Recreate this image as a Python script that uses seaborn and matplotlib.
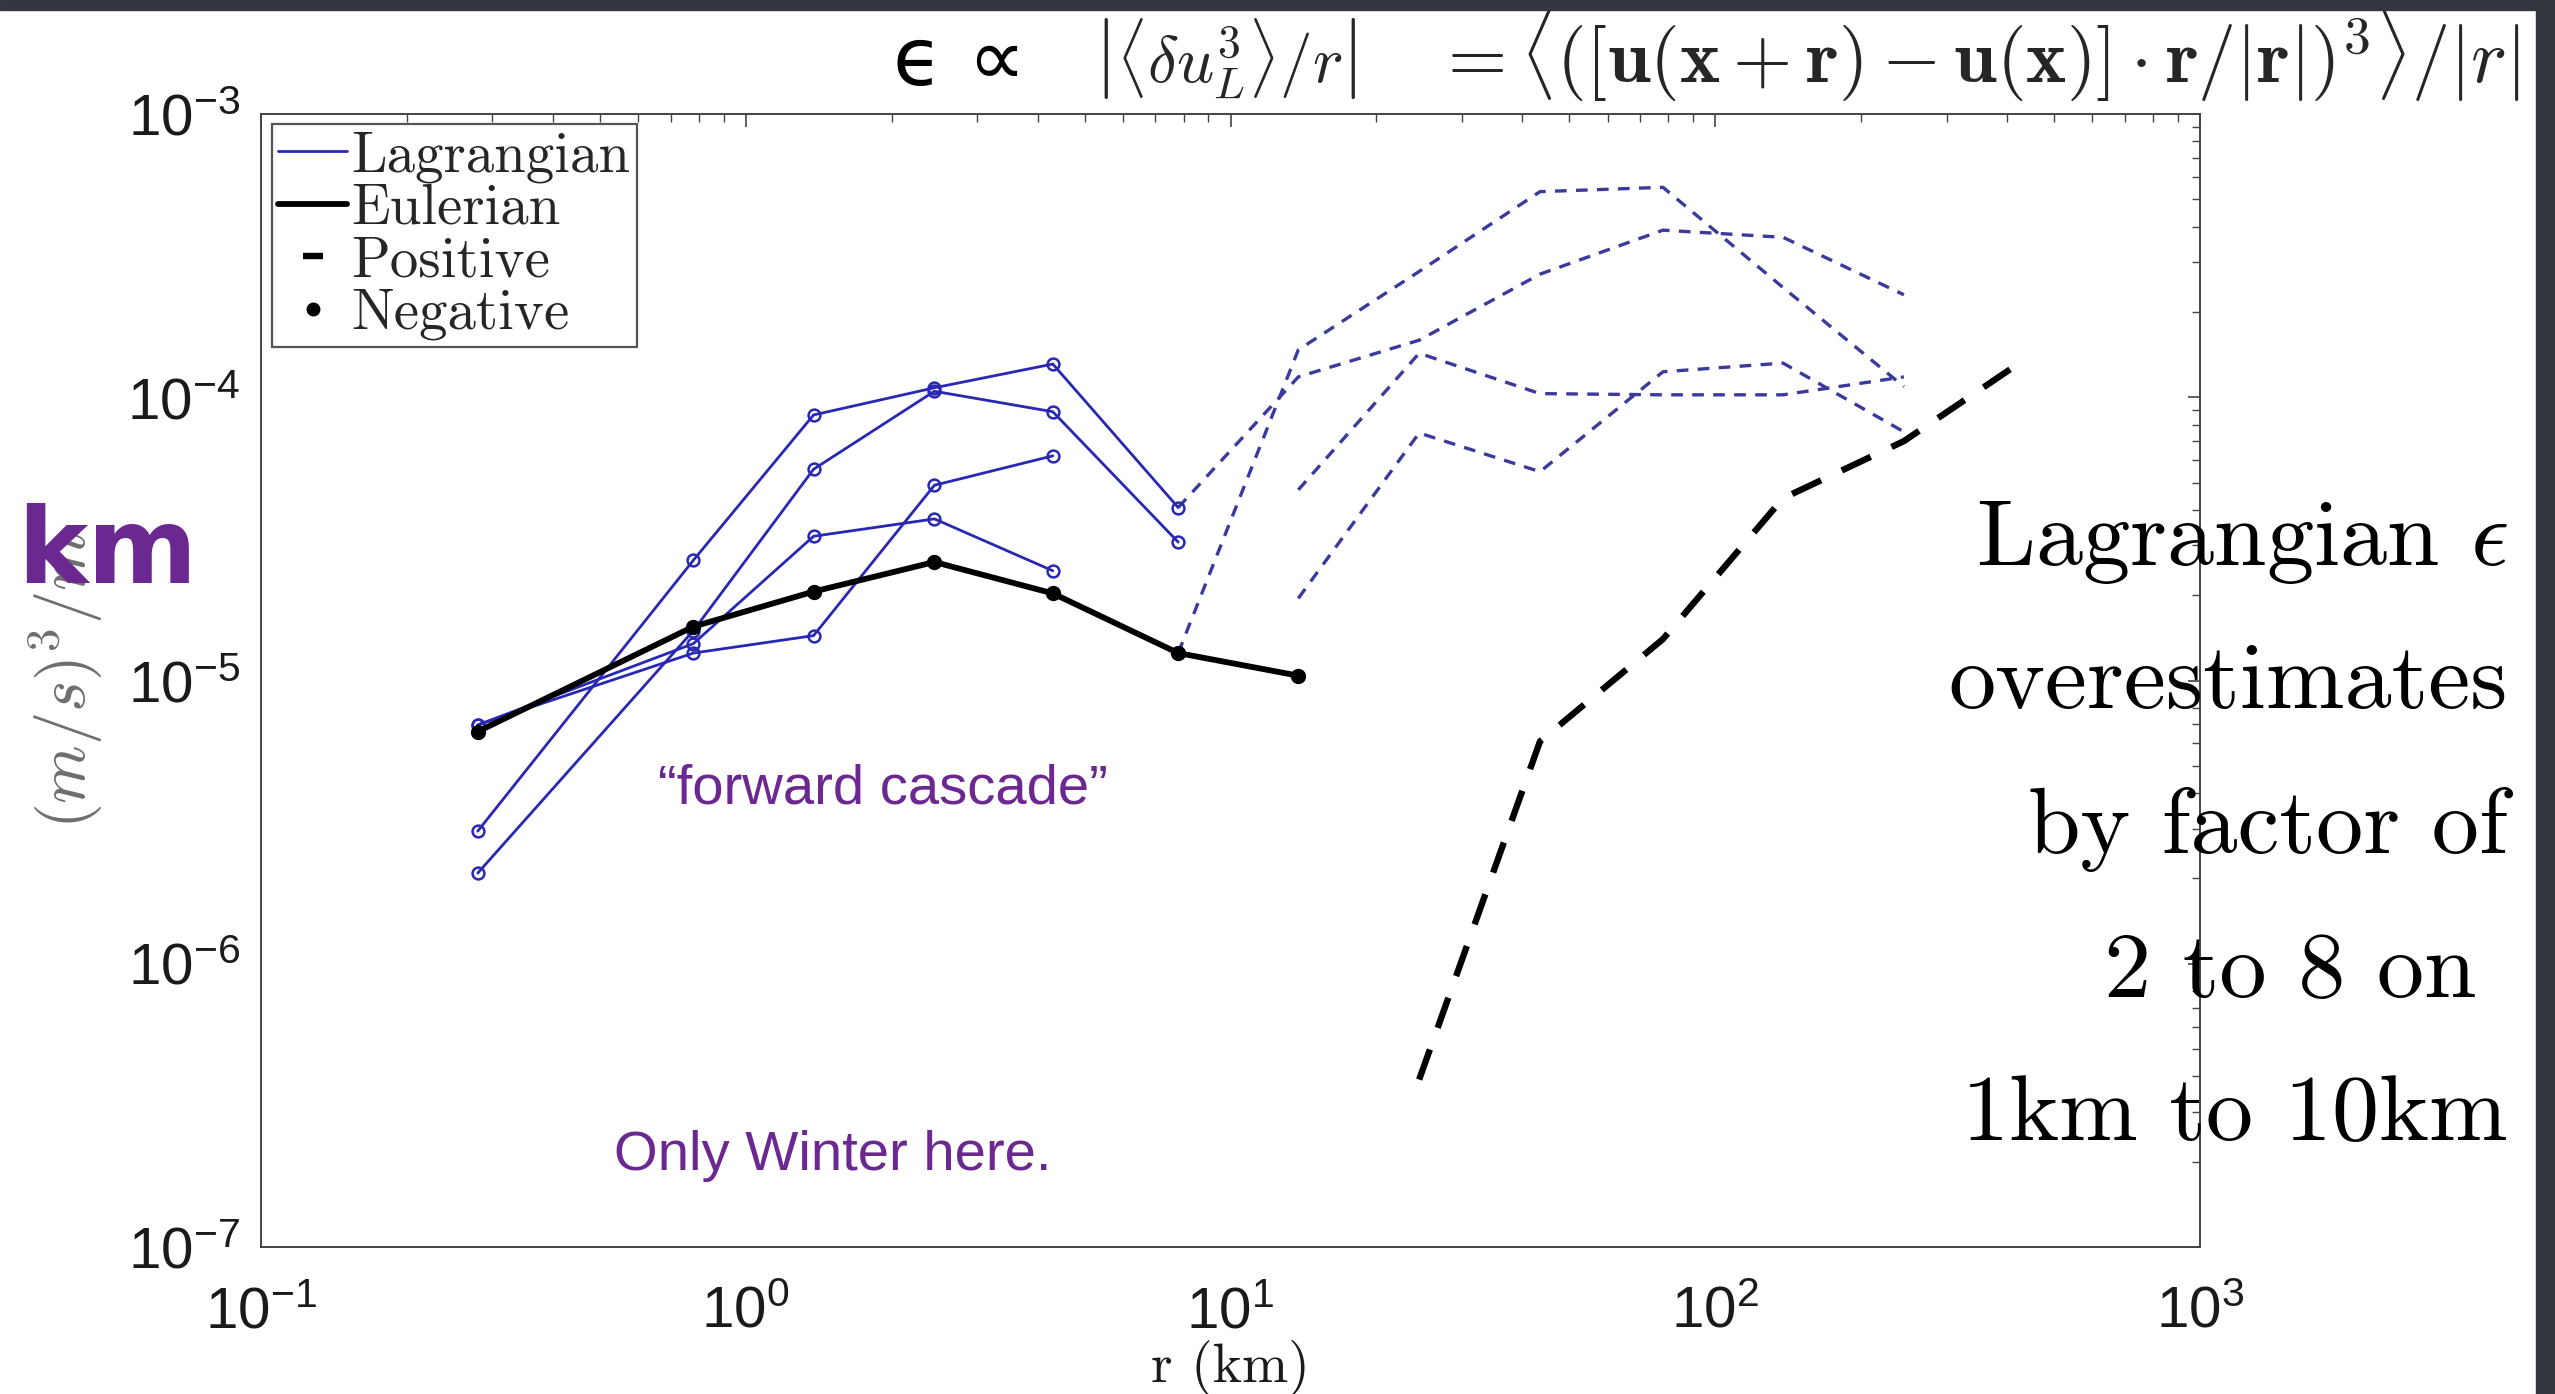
import numpy as np
import pandas as pd
import matplotlib
matplotlib.use("Agg")
import matplotlib.pyplot as plt
import seaborn as sns
from matplotlib.lines import Line2D
from matplotlib.patches import Rectangle

# ---------------- data ----------------
r_neg = [0.28, 0.78, 1.38, 2.45, 4.3, 7.8, 13.8]
eul_neg = [6.6e-6, 1.55e-5, 2.06e-5, 2.62e-5, 2.03e-5, 1.25e-5, 1.04e-5]
lag_neg_a = [2.94e-6, 2.66e-5, 8.66e-5, 1.08e-4, 1.31e-4, 4.08e-5]
lag_neg_b = [6.97e-6, 1.25e-5, 1.44e-5, 4.89e-5, 6.21e-5]
lag_neg_c = [2.09e-6, 1.50e-5, 5.57e-5, 1.05e-4, 8.89e-5, 3.08e-5]
lag_neg_d = [6.97e-6, 1.35e-5, 3.23e-5, 3.72e-5, 2.44e-5]

r_pos = [7.8, 13.8, 24.5, 43.5, 78, 138, 245]
lag_pos_a = [1.25e-5, 1.47e-4, 2.78e-4, 5.32e-4, 5.51e-4, 2.44e-4, 1.09e-4]
lag_pos_b = [4.08e-5, 1.18e-4, 1.59e-4, 2.72e-4, 3.89e-4, 3.67e-4, 2.30e-4]
lag_pos_c = [4.71e-5, 1.43e-4, 1.03e-4, 1.02e-4, 1.02e-4, 1.18e-4]
lag_pos_d = [1.95e-5, 7.48e-5, 5.46e-5, 1.23e-4, 1.32e-4, 7.55e-5]

r_eul_pos = [24.5, 43.5, 78, 138, 245, 410]
eul_pos = [3.9e-7, 6.1e-6, 1.4e-5, 4.4e-5, 7.0e-5, 1.27e-4]

legend_labels = ["Lagrangian", "Eulerian", "Positive", "Negative"]
note_lines = ["Lagrangian $\\epsilon$", "overestimates", "by factor of", "2 to 8 on ", "1km to 10km"]

# ---------------- style ----------------
sns.set_style("white")
plt.rcParams["font.family"] = ["Liberation Sans", "DejaVu Sans"]
plt.rcParams["mathtext.fontset"] = "custom"
plt.rcParams["mathtext.rm"] = "Liberation Sans"
plt.rcParams["mathtext.it"] = "Liberation Sans:italic"
plt.rcParams["mathtext.bf"] = "Liberation Sans:bold"

W, H = 2555, 1394
fig = plt.figure(figsize=(W / 100, H / 100), dpi=100, facecolor="white")

def fx(x):
    return x / W

def fy(y):
    return 1 - y / H

ax = fig.add_axes([fx(261), fy(1247), (2200 - 261) / W, (1247 - 114) / H])
ax.set_facecolor("white")

blue_solid = "#2828b2"
blue_dash = "#3a3a9c"
purple = "#6B2891"

# Lagrangian negative (solid with open circles)
for vals in [lag_neg_a, lag_neg_b, lag_neg_c, lag_neg_d]:
    df = pd.DataFrame({"r": r_neg[:len(vals)], "v": vals})
    sns.lineplot(data=df, x="r", y="v", ax=ax, color=blue_solid, lw=2.0,
                 marker="o", ms=8.5, mfc="none", mec=blue_solid, mew=1.8,
                 estimator=None, sort=False, legend=False, zorder=3)

# Lagrangian positive (dashed)
for vals in [lag_pos_a, lag_pos_b, lag_pos_c, lag_pos_d]:
    rr = r_pos[len(r_pos) - len(vals):]
    df = pd.DataFrame({"r": rr, "v": vals})
    sns.lineplot(data=df, x="r", y="v", ax=ax, color=blue_dash, lw=2.4,
                 linestyle=(0, (3.5, 2.8)), estimator=None, sort=False,
                 legend=False, zorder=2)

# Eulerian positive (thick dashed black)
df = pd.DataFrame({"r": r_eul_pos, "v": eul_pos})
sns.lineplot(data=df, x="r", y="v", ax=ax, color="black", lw=4.6,
             linestyle=(0, (5, 3.6)), estimator=None, sort=False,
             legend=False, zorder=4)

# Eulerian negative (thick solid black with dots)
df = pd.DataFrame({"r": r_neg, "v": eul_neg})
sns.lineplot(data=df, x="r", y="v", ax=ax, color="black", lw=4.2,
             marker="o", ms=10, mfc="black", mec="black", mew=1.0,
             estimator=None, sort=False, legend=False, zorder=5)

ax.set_xscale("log")
ax.set_yscale("log")
ax.set_xlim(0.1, 1000)
ax.set_ylim(1e-7, 1e-3)

for s in ax.spines.values():
    s.set_color("#444444")
    s.set_linewidth(1.4)
ax.tick_params(which="both", direction="in", top=True, right=True,
               colors="#444444", labelcolor="#1a1a1a")
ax.tick_params(which="major", length=9, width=1.2, labelsize=42)
ax.tick_params(which="minor", length=6, width=1.0)
ax.tick_params(axis="y", which="major", pad=15)
ax.tick_params(axis="x", which="major", pad=28)

ax.set_xlabel("r (km)", family="cmr10", fontsize=40, labelpad=0, color="#1a1a1a")
ax.set_ylabel(r"$(m/s)^3/m$", fontsize=48, color="#6e6e6e", labelpad=16)
ax.yaxis.label.set_math_fontfamily("cm")

# legend
handles = [
    Line2D([0], [0], color=blue_solid, lw=2.0),
    Line2D([0], [0], color="black", lw=4.2),
    Line2D([0], [0], color="black", ls="none", marker="_", ms=14, mew=4.6),
    Line2D([0], [0], color="black", ls="none", marker="o", ms=9),
]
leg = ax.legend(handles, legend_labels, loc="upper left",
                bbox_to_anchor=(0.0055, 0.991), borderaxespad=0,
                prop={"family": "cmr10", "size": 41}, frameon=True,
                fancybox=False, shadow=False, handlelength=1.2,
                handletextpad=0.08, labelspacing=0.02, borderpad=0.12,
                framealpha=1)
leg.get_frame().set_edgecolor("#555555")
leg.get_frame().set_linewidth(1.6)

# title formula
fig.text(fx(893), fy(85), "ϵ ∝", family="DejaVu Sans", fontsize=58,
         ha="left", va="baseline", color="black")
fig.text(fx(1094), fy(83), r"$\left|\langle\delta u_L^3\rangle/r\right|$",
         fontsize=47, ha="left", va="baseline", math_fontfamily="cm")
fig.text(fx(1434), fy(83),
         r"$=\langle([\mathbf{u}(\mathbf{x}+\mathbf{r})-\mathbf{u}(\mathbf{x})]"
         r"\cdot\mathbf{r}/|\mathbf{r}|)^3\rangle/|r|$",
         fontsize=55, ha="left", va="baseline", math_fontfamily="cm")

# right-hand annotation
baselines = [565, 708, 853, 997, 1140]
for line, yb in zip(note_lines, baselines):
    fig.text(fx(2508), fy(yb), line, family="cmr10", math_fontfamily="cm",
             fontsize=68, ha="right", va="baseline", color="black")

# purple notes
fig.text(fx(658), fy(804), "\u201cforward cascade\u201d", fontsize=40.5,
         color=purple, ha="left", va="baseline")
fig.text(fx(614), fy(1170), "Only Winter here.", fontsize=40.5,
         color=purple, ha="left", va="baseline")
fig.text(fx(17), fy(583), "km", family="DejaVu Sans", weight="bold",
         fontsize=76, color=purple, ha="left", va="baseline")

# dark slide border strips
fig.patches.append(Rectangle((0, fy(10)), 1, 10 / H, transform=fig.transFigure,
                             color="#34363d", zorder=10))
fig.patches.append(Rectangle((fx(2536), 0), (W - 2536) / W, 1,
                             transform=fig.transFigure, color="#34363d", zorder=10))

fig.savefig("out.png", dpi=100, facecolor="white")
